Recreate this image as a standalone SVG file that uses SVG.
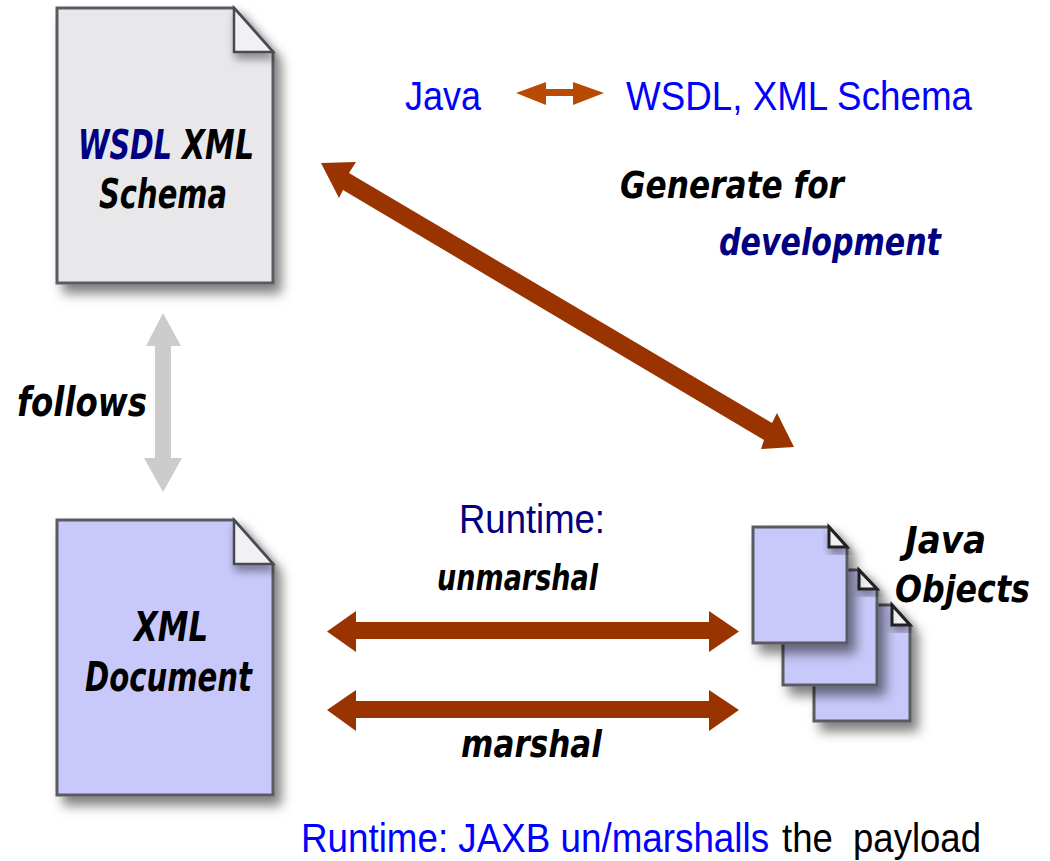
<svg xmlns="http://www.w3.org/2000/svg" width="1050" height="861" viewBox="0 0 1050 861">
<style>
text{font-family:"DejaVu Sans","Liberation Sans",sans-serif}
.b{font-style:italic;font-weight:bold;fill:#000;font-stretch:condensed}
.d{fill:#000080}
.n{font-family:"Liberation Sans","DejaVu Sans",sans-serif;white-space:pre}
.page{stroke:#5a5a62;stroke-width:3;filter:url(#s)}
.g{fill:#e8e8ea}.p{fill:#c8c8fa}
.fold{fill:#f0f0f5;stroke:#4a4a52;stroke-width:2.5;filter:url(#f)}
.fs{stroke:#222;stroke-width:3}
.arr{fill:#993300}
</style>
<defs>
<filter id="s" x="-15%" y="-15%" width="140%" height="140%"><feDropShadow dx="7" dy="9" stdDeviation="6" flood-color="#000" flood-opacity=".5"/></filter>
<filter id="f" x="-30%" y="-30%" width="170%" height="170%"><feDropShadow dx="2" dy="6" stdDeviation="4" flood-color="#000" flood-opacity=".4"/></filter>
</defs>
<rect width="1050" height="861" fill="#fff"/>
<g id="wsdl-schema">
<path class="page g" d="M57 8H234L273 52V283H57Z"/>
<path class="fold" d="M234 8V52H273Z"/>
<text transform="translate(78 159) scale(.82 1)" class="b" font-size="40" textLength="114.600" lengthAdjust="spacingAndGlyphs" style="fill:#000080">WSDL</text>
<text transform="translate(182 159) scale(.84 1)" class="b" font-size="40" textLength="85.700" lengthAdjust="spacingAndGlyphs">XML</text>
<text x="99" y="208" class="b" font-size="40" textLength="128" lengthAdjust="spacingAndGlyphs">Schema</text>
</g>
<g id="xml-document">
<path class="page p" d="M57 520H234L273 564V795H57Z"/>
<path class="fold" d="M234 520V564H273Z"/>
<text x="134" y="641" class="b" font-size="40" textLength="74" lengthAdjust="spacingAndGlyphs">XML</text>
<text x="85" y="691" class="b" font-size="40" textLength="167" lengthAdjust="spacingAndGlyphs">Document</text>
</g>
<g id="java-objects">
<path class="page p" d="M814 605H892L910 625V721H814Z"/>
<path class="fold fs" d="M892 605V625H910Z"/>
<path class="page p" d="M783 570H859L877 589V685H783Z"/>
<path class="fold fs" d="M859 570V589H877Z"/>
<path class="page p" d="M753 527H829L847 547V643H753Z"/>
<path class="fold fs" d="M829 527V547H847Z"/>
<text x="905" y="553" class="b" font-size="38" textLength="81" lengthAdjust="spacingAndGlyphs">Java</text>
<text x="895" y="602" class="b" font-size="38" textLength="135" lengthAdjust="spacingAndGlyphs">Objects</text>
</g>
<g id="connectors">
<polygon class="arr" points="321,163 356,162 349,173 772,423 777,413 794,447 761,449 764,440 343,190 339,198"/>
<polygon fill="#b84a04" points="516,93 546,82 546,89 573,89 573,82 604,93 573,105 573,96 546,96 546,105"/>
<polygon fill="#cccccc" points="163,313 181,346 171,346 171,458 182,458 163,492 144,458 155,458 155,346 146,346"/>
<polygon class="arr" points="327,631.500 356,611 356,622 709,622 709,611 739,631.500 709,652 709,639 356,639 356,652"/>
<polygon class="arr" points="327,710 356,690 356,701 709,701 709,690 739,710 709,731 709,718 356,718 356,731"/>
</g>
<g id="labels">
<text x="405" y="110" class="n" font-size="40" fill="#0000ff" textLength="76" lengthAdjust="spacingAndGlyphs">Java</text>
<text x="626" y="110" class="n" font-size="40" fill="#0000ff" textLength="346" lengthAdjust="spacingAndGlyphs">WSDL, XML Schema</text>
<text x="620" y="198" class="b" font-size="38" textLength="224" lengthAdjust="spacingAndGlyphs">Generate for</text>
<text x="719" y="255" class="b" font-size="38" textLength="222" lengthAdjust="spacingAndGlyphs" style="fill:#000080">development</text>
<text x="17" y="416" class="b" font-size="40" textLength="130" lengthAdjust="spacingAndGlyphs">follows</text>
<text x="459" y="533" class="n" font-size="40" fill="#000080" textLength="146" lengthAdjust="spacingAndGlyphs">Runtime:</text>
<text x="437" y="590" class="b" font-size="36" textLength="161" lengthAdjust="spacingAndGlyphs">unmarshal</text>
<text x="461" y="757" class="b" font-size="38" textLength="141" lengthAdjust="spacingAndGlyphs">marshal</text>
<text transform="translate(301 852) scale(.909 1)" class="n" font-size="40" fill="#0000ff" textLength="514.900" lengthAdjust="spacingAndGlyphs">Runtime: JAXB un/marshalls</text>
<text transform="translate(782 852) scale(.926 1)" class="n" font-size="40" fill="#000" textLength="214.900" lengthAdjust="spacingAndGlyphs">the  payload</text>
</g>
</svg>
